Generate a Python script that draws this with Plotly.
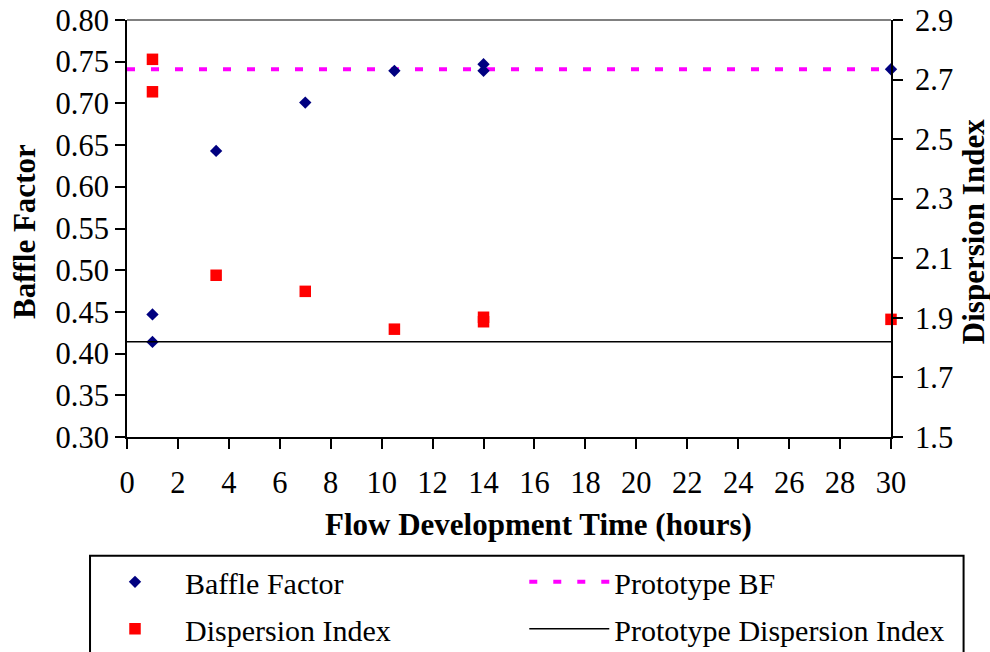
import plotly.graph_objects as go

# ---- data ----
time_bf = [1, 1, 3.5, 7, 10.5, 14, 14, 30]
baffle_factor = [0.447, 0.414, 0.643, 0.701, 0.739, 0.747, 0.739, 0.741]
time_di = [1, 1, 3.5, 7, 10.5, 14, 14, 30]
dispersion_index = [2.768, 2.659, 2.043, 1.989, 1.862, 1.902, 1.887, 1.895]
proto_x = [0, 30]
prototype_bf = [0.741, 0.741]
prototype_di = [1.82, 1.82]

x_ticks = list(range(0, 31, 2))

FONT = "'Liberation Serif', Tinos, 'Times New Roman', 'DejaVu Serif', serif"
NB = "\u00a0"

fig = go.Figure()
fig.add_trace(go.Scatter(
    x=proto_x, y=prototype_bf, mode="lines", name="Prototype BF",
    line=dict(color="#FF00FF", width=4, dash="8px,16px"),
    legend="legend2", legendgroup="pbf", yaxis="y"))
fig.add_trace(go.Scatter(
    x=time_bf, y=baffle_factor, mode="markers", name=NB * 4 + "Baffle Factor",
    marker=dict(symbol="diamond", color="#000080", size=9.5, line=dict(width=0)),
    cliponaxis=False, legend="legend", legendgroup="bf", yaxis="y"))
fig.add_trace(go.Scatter(
    x=time_di, y=dispersion_index, mode="markers", name=NB * 4 + "Dispersion Index",
    marker=dict(symbol="square", color="#FF0000", size=11.5, line=dict(width=0)),
    cliponaxis=False, legend="legend", legendgroup="di", yaxis="y2"))
fig.add_trace(go.Scatter(
    x=proto_x, y=prototype_di, mode="lines", name="Prototype Dispersion Index",
    line=dict(color="black", width=1.5),
    legend="legend2", legendgroup="pdi", yaxis="y2"))

tickfont = dict(family=FONT, size=30.5, color="black")
fig.update_layout(
    width=990, height=652,
    margin=dict(l=127, r=99, t=20, b=215, autoexpand=False),
    paper_bgcolor="white", plot_bgcolor="white",
    font=dict(family=FONT, color="black"),
    xaxis=dict(range=[0, 30], tickvals=x_ticks, ticks="outside", ticklen=10,
               tickwidth=2, tickcolor="black", showline=True, linecolor="black",
               linewidth=2, showgrid=False, zeroline=False, tickfont=tickfont,
               ticklabelstandoff=7),
    yaxis=dict(range=[0.3, 0.8], dtick=0.05, tick0=0.3, tickformat=".2f",
               ticks="outside", ticklen=10, tickwidth=2, tickcolor="black",
               showline=True, linecolor="black", linewidth=2, showgrid=False,
               zeroline=False, tickfont=tickfont),
    yaxis2=dict(range=[1.5, 2.9], dtick=0.2, tick0=1.5, tickformat=".1f",
                overlaying="y", side="right", ticks="outside", ticklen=10,
                tickwidth=2, tickcolor="black", showline=True, linecolor="black",
                linewidth=2, showgrid=False, zeroline=False, tickfont=tickfont,
                ticklabelstandoff=6),
    legend=dict(x=-0.0157, xanchor="left", y=-0.285, yanchor="top",
                bgcolor="rgba(0,0,0,0)", borderwidth=0, tracegroupgap=5,
                font=dict(family=FONT, size=30, color="black")),
    legend2=dict(x=0.52, xanchor="left", y=-0.285, yanchor="top",
                 bgcolor="rgba(0,0,0,0)", borderwidth=0, itemwidth=80,
                 tracegroupgap=5,
                 font=dict(family=FONT, size=30, color="black")),
    showlegend=True,
)

# plot-area top border and legend box
fig.add_shape(type="line", xref="paper", yref="paper", x0=0, x1=1, y0=1, y1=1,
              line=dict(color="#808080", width=2))
fig.add_shape(type="rect", xref="paper", yref="paper",
              x0=-0.0484, x1=1.095, y0=-0.285, y1=-0.6,
              line=dict(color="black", width=2), fillcolor="rgba(0,0,0,0)")

titlefont = dict(family=FONT, size=31, color="black")
fig.add_annotation(text="<b>Flow Development Time (hours)</b>", xref="paper", yref="paper",
                   x=0.539, y=-0.211, showarrow=False, font=titlefont,
                   xanchor="center", yanchor="middle")
fig.add_annotation(text="<b>Baffle Factor</b>", xref="paper", yref="paper",
                   x=-0.1348, y=0.4916, showarrow=False, font=titlefont,
                   textangle=-90, xanchor="center", yanchor="middle")
fig.add_annotation(text="<b>Dispersion Index</b>", xref="paper", yref="paper",
                   x=1.1075, y=0.4916, showarrow=False, font=titlefont,
                   textangle=-90, xanchor="center", yanchor="middle")

fig.write_html("out.html")
